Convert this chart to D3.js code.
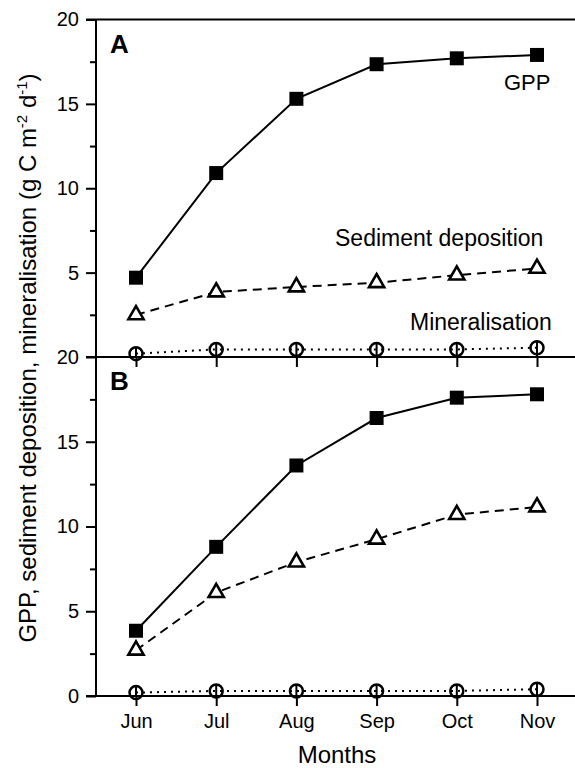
<!DOCTYPE html>
<html>
<head>
<meta charset="utf-8">
<script src="https://cdn.jsdelivr.net/npm/d3@7"></script>
<style>
  body { margin: 0; background: #fff; }
  text { font-family: Arial, "Liberation Sans", sans-serif; fill: #000; }
</style>
</head>
<body>
<div id="chartContainer"></div>
<script>
// months on the x axis
var months = ["Jun", "Jul", "Aug", "Sep", "Oct", "Nov"];
var yTicks = [0, 5, 10, 15, 20];
var yMinor = [2.5, 7.5, 12.5, 17.5];

// panel A
var gppA = [4.7, 10.9, 15.3, 17.35, 17.7, 17.9];
var sedA = [2.5, 3.85, 4.15, 4.4, 4.85, 5.25];
var minA = [0.2, 0.45, 0.45, 0.45, 0.45, 0.55];

// panel B
var gppB = [3.85, 8.8, 13.6, 16.4, 17.6, 17.8];
var sedB = [2.7, 6.1, 7.9, 9.25, 10.7, 11.15];
var minB = [0.2, 0.3, 0.3, 0.3, 0.3, 0.4];

var W = 575, H = 768;
var left = 96, right = 575;
var svg = d3.select("#chartContainer").append("svg")
  .attr("width", W).attr("height", H);

var x = d3.scalePoint().domain(months).range([136, 537]);

function panel(top, bottom, gpp, sed, min, label, isBottom) {
  var y = d3.scaleLinear().domain([0, 20]).range([bottom, top]);
  var g = svg.append("g");

  // minor ticks
  g.append("g").attr("transform", "translate(" + left + ",0)")
    .call(d3.axisLeft(y).tickValues(yMinor).tickSize(6).tickFormat(""))
    .call(function (a) { a.select(".domain").remove(); a.selectAll("line").attr("stroke-width", 2); });

  // major ticks (panel A's zero label is covered by panel B's 20)
  var ya = g.append("g").attr("transform", "translate(" + left + ",0)")
    .call(d3.axisLeft(y).tickValues(isBottom ? yTicks : yTicks.slice(1)).tickSize(10).tickPadding(7))
    .call(function (a) { a.select(".domain").remove(); a.selectAll("line").attr("stroke-width", 2); });
  ya.selectAll("text").style("font-size", "20px").style("font-family", "Arial, 'Liberation Sans', sans-serif");

  // x ticks
  var xa = g.append("g").attr("transform", "translate(0," + bottom + ")")
    .call(d3.axisBottom(x).tickSize(10).tickPadding(8))
    .call(function (a) { a.select(".domain").remove(); a.selectAll("line").attr("stroke-width", 2); });
  xa.selectAll("text").style("font-size", "20px").style("font-family", "Arial, 'Liberation Sans', sans-serif");
  if (!isBottom) xa.selectAll("text").remove();

  // frame: left and bottom spine, plus top line
  g.append("line").attr("x1", left).attr("x2", left).attr("y1", top).attr("y2", bottom)
    .attr("stroke", "#000").attr("stroke-width", 2);
  g.append("line").attr("x1", left - 10).attr("x2", right).attr("y1", bottom).attr("y2", bottom)
    .attr("stroke", "#000").attr("stroke-width", 2);
  if (!isBottom) {
    g.append("line").attr("x1", left - 10).attr("x2", right).attr("y1", top).attr("y2", top)
      .attr("stroke", "#000").attr("stroke-width", 2);
  }

  var line = d3.line().x(function (d, i) { return x(months[i]); }).y(function (d) { return y(d); });

  // mineralisation (dotted, circles)
  g.append("path").datum(min).attr("d", line).attr("fill", "none")
    .attr("stroke", "#000").attr("stroke-width", 2).attr("stroke-dasharray", "2,5");
  g.selectAll(".minbar").data(min).enter().append("line")
    .attr("x1", function (d, i) { return x(months[i]); })
    .attr("x2", function (d, i) { return x(months[i]); })
    .attr("y1", function (d) { return y(d) - 6; })
    .attr("y2", bottom)
    .attr("stroke", "#000").attr("stroke-width", 2);
  g.selectAll(".minpt").data(min).enter().append("circle")
    .attr("cx", function (d, i) { return x(months[i]); })
    .attr("cy", function (d) { return y(d); })
    .attr("r", 6.5).attr("fill", "none").attr("stroke", "#000").attr("stroke-width", 2.5);

  // sediment deposition (dashed, triangles)
  g.append("path").datum(sed).attr("d", line).attr("fill", "none")
    .attr("stroke", "#000").attr("stroke-width", 2).attr("stroke-dasharray", "9,6");
  g.selectAll(".sedpt").data(sed).enter().append("path")
    .attr("d", d3.symbol(d3.symbolTriangle, 100))
    .attr("transform", function (d, i) { return "translate(" + x(months[i]) + "," + y(d) + ")"; })
    .attr("fill", "#fff").attr("stroke", "#000").attr("stroke-width", 2.6);

  // GPP (solid, squares)
  g.append("path").datum(gpp).attr("d", line).attr("fill", "none")
    .attr("stroke", "#000").attr("stroke-width", 2);
  g.selectAll(".gpppt").data(gpp).enter().append("path")
    .attr("d", d3.symbol(d3.symbolSquare, 196))
    .attr("transform", function (d, i) { return "translate(" + x(months[i]) + "," + y(d) + ")"; })
    .attr("fill", "#000");

  g.append("text").attr("x", 110).attr("y", top + 33)
    .style("font-size", "26px").style("font-weight", "bold").text(label);
  return y;
}

panel(19.5, 357, gppA, sedA, minA, "A", false);
panel(357, 696, gppB, sedB, minB, "B", true);

// series labels in panel A
svg.append("text").attr("x", 504).attr("y", 90).style("font-size", "22px").text("GPP");
svg.append("text").attr("x", 335).attr("y", 246).style("font-size", "23px").text("Sediment deposition");
svg.append("text").attr("x", 410).attr("y", 330).style("font-size", "23px").text("Mineralisation");

// axis titles
svg.append("text").attr("x", 337).attr("y", 763)
  .attr("text-anchor", "middle").style("font-size", "24px").text("Months");

var yl = svg.append("text").attr("transform", "translate(36,358) rotate(-90)")
  .attr("text-anchor", "middle").style("font-size", "24px");
yl.append("tspan").text("GPP, sediment deposition, mineralisation (g C m");
yl.append("tspan").attr("dy", -9).style("font-size", "15px").text("-2");
yl.append("tspan").attr("dy", 9).text(" d");
yl.append("tspan").attr("dy", -9).style("font-size", "15px").text("-1");
yl.append("tspan").attr("dy", 9).text(")");
</script>
</body>
</html>
